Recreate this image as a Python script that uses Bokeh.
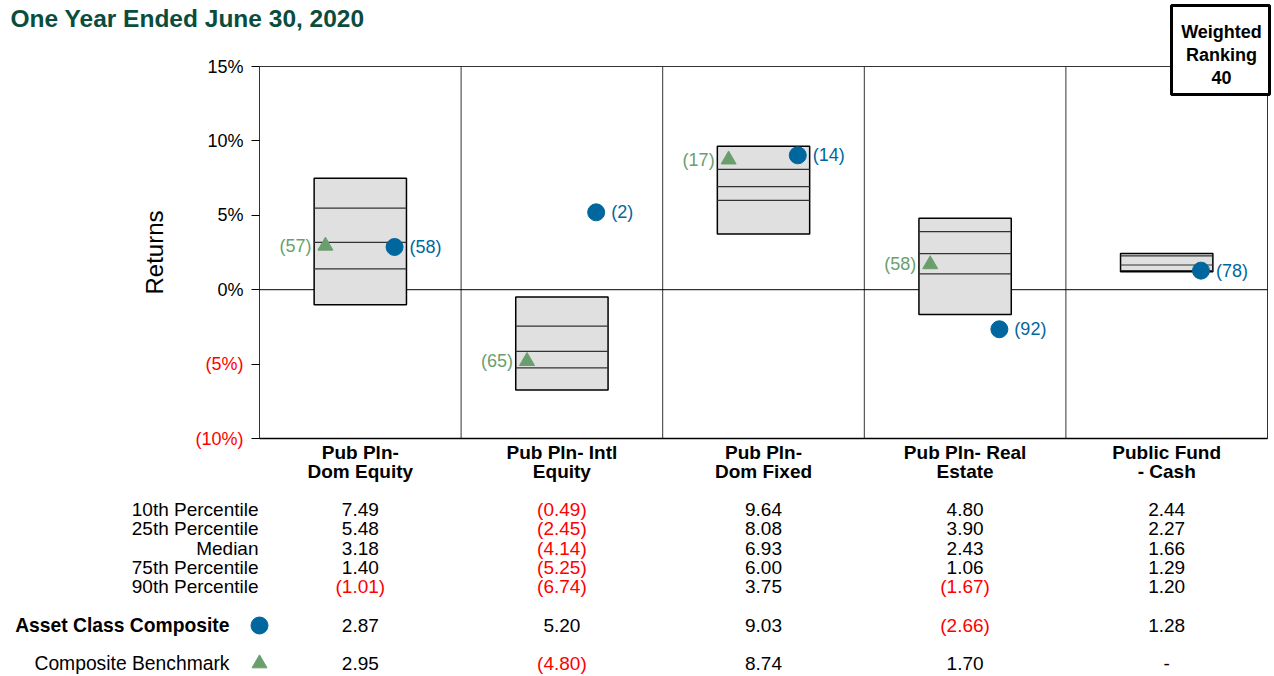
from bokeh.plotting import figure
from bokeh.models import Range1d, FixedTicker, LinearAxis, ColumnDataSource
from bokeh.core.properties import value
from bokeh.embed import file_html
from bokeh.resources import INLINE

# ---------------- data ----------------
categories = ["Pub Pln-\nDom Equity", "Pub Pln- Intl\nEquity", "Pub Pln-\nDom Fixed",
              "Pub Pln- Real\nEstate", "Public Fund\n- Cash"]
p10 = [7.49, -0.49, 9.64, 4.80, 2.44]
p25 = [5.48, -2.45, 8.08, 3.90, 2.27]
median = [3.18, -4.14, 6.93, 2.43, 1.66]
p75 = [1.40, -5.25, 6.00, 1.06, 1.29]
p90 = [-1.01, -6.74, 3.75, -1.67, 1.20]
composite = [2.87, 5.20, 9.03, -2.66, 1.28]
composite_rank = [58, 2, 14, 92, 78]
benchmark = [2.95, -4.80, 8.74, 1.70, None]
benchmark_rank = [57, 65, 17, 58, None]
weighted_ranking = 40
y_ticks = [-10, -5, 0, 5, 10, 15]
row_labels = ["10th Percentile", "25th Percentile", "Median", "75th Percentile", "90th Percentile"]
title_text = "One Year Ended June 30, 2020"

# ---------------- style / layout ----------------
FONT = "Liberation Sans"
BLUE = "#00679e"
GREEN = "#6a9f6d"
RED = "#ff0000"
TITLE_GREEN = "#0b4d3c"
GRID = "#333333"

W, H = 1272, 674
PLOT_L, PLOT_R = 259, 1267      # plot area in canvas px
PLOT_T, PLOT_B = 66, 438

n = len(categories)
centers = [i + 0.5 for i in range(n)]
half_w = 0.229
ymin, ymax = y_ticks[0], y_ticks[-1]

xu = (PLOT_R - PLOT_L) / n               # px per category
yu = (PLOT_B - PLOT_T) / (ymax - ymin)   # px per percent

def fmt(v):
    if v is None:
        return "-"
    return "(%.2f)" % abs(v) if v < 0 else "%.2f" % v

def colr(v):
    return RED if (v is not None and v < 0) else "black"

p = figure(width=W, height=H, output_backend="svg", toolbar_location=None,
           x_axis_type=None, y_axis_type=None,
           x_range=Range1d(-PLOT_L / xu, (W - PLOT_L) / xu),
           y_range=Range1d(ymin - (H - PLOT_B) / yu, ymax + PLOT_T / yu),
           min_border=0)
p.extra_x_ranges = {"px": Range1d(0, W)}
p.extra_y_ranges = {"px": Range1d(H, 0)}
p.grid.visible = False
p.outline_line_color = None
p.background_fill_color = "white"
p.border_fill_color = "white"

# ---------------- axes ----------------
pos_ticks = [t for t in y_ticks if t >= 0]
neg_ticks = [t for t in y_ticks if t < 0]

def make_axis(ticks, labels, color, with_line, axis_label=None):
    ax = LinearAxis(fixed_location=0, bounds=(ymin, ymax))
    ax.ticker = FixedTicker(ticks=ticks)
    ax.major_label_overrides = labels
    ax.major_label_text_font = FONT
    ax.major_label_text_font_size = "18px"
    ax.major_label_text_color = color
    ax.major_tick_out = 8
    ax.major_tick_in = 0
    ax.minor_tick_out = 0
    ax.minor_tick_in = 0
    ax.major_tick_line_color = "black"
    ax.axis_line_color = GRID if with_line else None
    ax.major_label_standoff = 8
    if axis_label:
        ax.axis_label = axis_label
        ax.axis_label_text_font = FONT
        ax.axis_label_text_font_size = "24px"
        ax.axis_label_text_font_style = "normal"
        ax.axis_label_text_color = "black"
        ax.axis_label_standoff = 36
    p.add_layout(ax, "left")

make_axis(pos_ticks, {t: "%d%%" % t for t in pos_ticks}, "black", True, "Returns")
make_axis(neg_ticks, {t: "(%d%%)" % abs(t) for t in neg_ticks}, RED, False)

# ---------------- plot frame lines ----------------
p.quad(left=[0], right=[n], bottom=[ymin], top=[ymax], fill_color=None,
       line_color=GRID, line_width=1)
p.segment(x0=list(range(1, n)), x1=list(range(1, n)), y0=[ymin] * (n - 1),
          y1=[ymax] * (n - 1), line_color=GRID, line_width=1)
p.segment(x0=[0, 0], x1=[n, n], y0=[0, ymin], y1=[0, ymin], line_color="black",
          line_width=[1, 1.5])

# ---------------- boxes ----------------
box_src = ColumnDataSource(dict(
    left=[c - half_w for c in centers], right=[c + half_w for c in centers],
    top=p10, bottom=p90))
p.quad(left="left", right="right", top="top", bottom="bottom", source=box_src,
       fill_color="#e0e0e0", line_color="black", line_width=1.5)
for arr in (p25, median, p75):
    p.segment(x0=[c - half_w for c in centers], x1=[c + half_w for c in centers],
              y0=arr, y1=arr, line_color="#333333", line_width=1.2)

# benchmark triangles + ranks
bx = [c - 0.173 for c, b in zip(centers, benchmark) if b is not None]
by = [b for b in benchmark if b is not None]
br = ["(%d)" % r for r in benchmark_rank if r is not None]
p.scatter(x=bx, y=by, marker="triangle", size=15, fill_color=GREEN, line_color=GREEN)
p.text(x=bx, y=by, text=br, x_offset=-14, text_align="right", text_baseline="middle",
       text_font=value(FONT), text_font_size="18px", text_color=GREEN)

# composite circles + ranks
cx = [c + 0.17 for c in centers]
p.scatter(x=cx, y=composite, marker="circle", size=17, fill_color=BLUE, line_color=BLUE)
p.text(x=cx, y=composite, text=["(%d)" % r for r in composite_rank], x_offset=15,
       text_align="left", text_baseline="middle",
       text_font=value(FONT), text_font_size="18px", text_color=BLUE)

# ---------------- title & weighted ranking box ----------------
p.text(x=[10], y=[18], text=[title_text], x_range_name="px", y_range_name="px",
       text_align="left", text_baseline="middle", text_font=value(FONT),
       text_font_size="24.5px", text_font_style="bold", text_color=TITLE_GREEN)

p.quad(left=[1171], right=[1269], top=[5], bottom=[94], x_range_name="px", y_range_name="px",
       fill_color="white", line_color="black", line_width=3)
wr_lines = ["Weighted", "Ranking", str(weighted_ranking)]
p.text(x=[1221] * 3, y=[31, 54, 77], text=wr_lines, x_range_name="px", y_range_name="px",
       text_align="center", text_baseline="middle", text_font=value(FONT),
       text_font_size="18px", text_font_style="bold", text_color="black")

# ---------------- category labels & table ----------------
line1 = [c.split("\n")[0] for c in categories]
line2 = [c.split("\n")[1] for c in categories]
for lines, yy in ((line1, 452), (line2, 471)):
    p.text(x=centers, y=[yy] * n, text=lines, y_range_name="px", text_align="center",
           text_baseline="middle", text_font=value(FONT), text_font_size="19px",
           text_font_style="bold", text_color="black")

row_y = [509, 528, 548, 567, 586]
acc_y, cb_y = 625, 663

p.text(x=[0] * len(row_labels), y=row_y, text=row_labels, y_range_name="px", x_offset=-1,
       text_align="right", text_baseline="middle", text_font=value(FONT),
       text_font_size="19px", text_color="black")
for arr, yy in zip((p10, p25, median, p75, p90), row_y):
    p.text(x=centers, y=[yy] * n, text=[fmt(v) for v in arr], y_range_name="px",
           text_align="center", text_baseline="middle", text_font=value(FONT),
           text_font_size="19px", text_color=[colr(v) for v in arr])

p.text(x=[0], y=[acc_y], text=["Asset Class Composite"], y_range_name="px", x_offset=-30,
       text_align="right", text_baseline="middle", text_font=value(FONT),
       text_font_size="19.3px", text_font_style="bold", text_color="black")
p.scatter(x=[0], y=[acc_y], y_range_name="px", marker="circle", size=17,
          fill_color=BLUE, line_color=BLUE)
p.text(x=centers, y=[acc_y] * n, text=[fmt(v) for v in composite], y_range_name="px",
       text_align="center", text_baseline="middle", text_font=value(FONT),
       text_font_size="19px", text_color=[colr(v) for v in composite])

p.text(x=[0], y=[cb_y], text=["Composite Benchmark"], y_range_name="px", x_offset=-30,
       text_align="right", text_baseline="middle", text_font=value(FONT),
       text_font_size="19.3px", text_color="black")
p.scatter(x=[0], y=[cb_y], y_range_name="px", marker="triangle", size=15,
          fill_color=GREEN, line_color=GREEN)
p.text(x=centers, y=[cb_y] * n, text=[fmt(v) for v in benchmark], y_range_name="px",
       text_align="center", text_baseline="middle", text_font=value(FONT),
       text_font_size="19px", text_color=[colr(v) for v in benchmark])

open("out.html", "w").write(file_html(p, INLINE))
